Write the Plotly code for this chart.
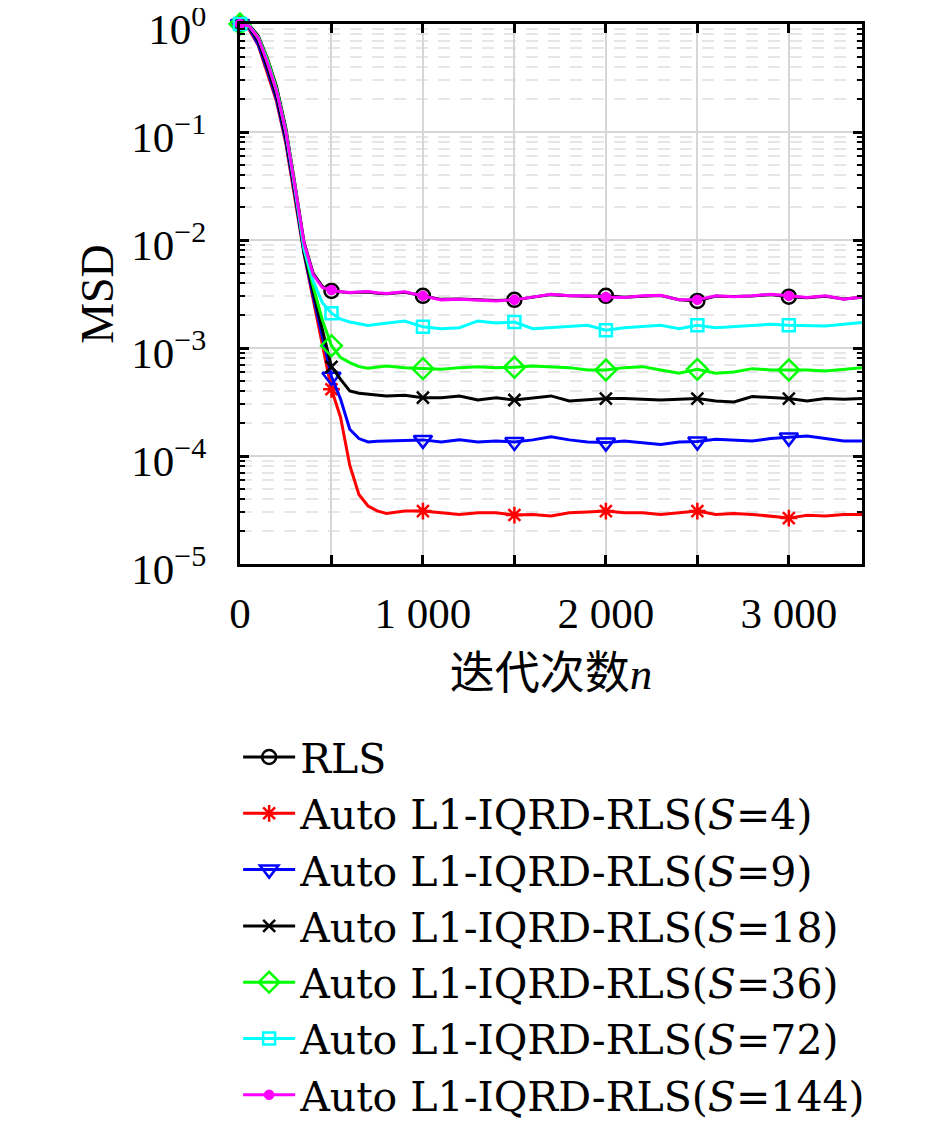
import plotly.graph_objects as go

# iteration index
n = [0, 50, 100, 150, 200, 250, 300, 350, 400, 450, 500, 550, 600, 650, 700, 750, 800,
     900, 1000, 1100, 1200, 1300, 1400, 1500, 1600, 1700, 1800, 1900, 2000,
     2100, 2200, 2300, 2400, 2500, 2600, 2700, 2800, 2900, 3000, 3100, 3200, 3300, 3400]

# MSD curves
msd_rls = [1.0, 0.977, 0.776, 0.479, 0.263, 0.110, 0.0331, 9.55e-3, 4.9e-3, 3.72e-3, 3.38e-3, 3.3e-3, 3.24e-3, 3.28e-3, 3.3e-3, 3.22e-3, 3.18e-3,
           3.28e-3, 3.04e-3, 2.82e-3, 2.85e-3, 2.8e-3, 2.75e-3, 2.79e-3, 2.95e-3, 3.12e-3, 3.05e-3, 3.02e-3, 3.04e-3,
           2.95e-3, 3.02e-3, 3.06e-3, 2.8e-3, 2.73e-3, 3.02e-3, 3.0e-3, 3.03e-3, 3.12e-3, 2.99e-3, 2.92e-3, 3.02e-3, 2.85e-3, 2.95e-3]
msd_s4 = [1.0, 0.891, 0.631, 0.355, 0.191, 0.0794, 0.0251, 7.41e-3, 2.82e-3, 1.07e-3, 4.15e-4, 2.27e-4, 8.2e-5, 4.4e-5, 3.44e-5, 3.1e-5, 2.94e-5,
          3.09e-5, 3.09e-5, 2.98e-5, 2.88e-5, 2.98e-5, 2.98e-5, 2.84e-5, 2.88e-5, 2.78e-5, 2.98e-5, 3.03e-5, 3.09e-5,
          2.98e-5, 2.98e-5, 2.88e-5, 2.98e-5, 3.09e-5, 2.88e-5, 2.94e-5, 2.88e-5, 2.78e-5, 2.66e-5, 2.82e-5, 2.78e-5, 2.88e-5, 2.88e-5]
msd_s9 = [1.0, 0.912, 0.646, 0.372, 0.200, 0.0832, 0.0263, 7.59e-3, 3.02e-3, 1.26e-3, 5.43e-4, 3.35e-4, 1.77e-4, 1.45e-4, 1.35e-4, 1.37e-4, 1.38e-4,
          1.38e-4, 1.41e-4, 1.35e-4, 1.41e-4, 1.35e-4, 1.38e-4, 1.35e-4, 1.41e-4, 1.51e-4, 1.41e-4, 1.35e-4, 1.33e-4,
          1.38e-4, 1.33e-4, 1.28e-4, 1.35e-4, 1.36e-4, 1.43e-4, 1.41e-4, 1.38e-4, 1.45e-4, 1.48e-4, 1.53e-4, 1.45e-4, 1.38e-4, 1.38e-4]
msd_s18 = [1.0, 0.933, 0.692, 0.398, 0.214, 0.0891, 0.0275, 7.76e-3, 3.31e-3, 1.45e-3, 6.7e-4, 5.13e-4, 4.0e-4, 3.81e-4, 3.73e-4, 3.65e-4, 3.60e-4,
           3.65e-4, 3.47e-4, 3.47e-4, 3.60e-4, 3.30e-4, 3.47e-4, 3.30e-4, 3.47e-4, 3.60e-4, 3.23e-4, 3.30e-4, 3.40e-4,
           3.40e-4, 3.35e-4, 3.30e-4, 3.35e-4, 3.40e-4, 3.23e-4, 3.16e-4, 3.55e-4, 3.47e-4, 3.40e-4, 3.23e-4, 3.40e-4, 3.35e-4, 3.40e-4]
msd_s36 = [1.0, 0.955, 0.759, 0.468, 0.251, 0.105, 0.0316, 8.32e-3, 3.72e-3, 1.82e-3, 1.05e-3, 8.15e-4, 7.33e-4, 6.72e-4, 6.49e-4, 6.6e-4, 6.82e-4,
           6.58e-4, 6.44e-4, 6.35e-4, 6.58e-4, 6.72e-4, 6.58e-4, 6.63e-4, 6.82e-4, 6.72e-4, 6.58e-4, 6.26e-4, 6.26e-4,
           6.58e-4, 6.72e-4, 6.26e-4, 5.83e-4, 6.35e-4, 5.83e-4, 6.00e-4, 6.44e-4, 6.26e-4, 6.26e-4, 6.26e-4, 6.13e-4, 6.35e-4, 6.58e-4]
msd_s72 = [1.0, 0.955, 0.741, 0.447, 0.240, 0.100, 0.0302, 8.32e-3, 4.17e-3, 2.63e-3, 2.10e-3, 1.85e-3, 1.74e-3, 1.68e-3, 1.62e-3, 1.66e-3, 1.70e-3,
           1.78e-3, 1.57e-3, 1.51e-3, 1.54e-3, 1.78e-3, 1.70e-3, 1.74e-3, 1.51e-3, 1.54e-3, 1.58e-3, 1.62e-3, 1.46e-3,
           1.54e-3, 1.58e-3, 1.62e-3, 1.51e-3, 1.62e-3, 1.54e-3, 1.58e-3, 1.62e-3, 1.66e-3, 1.62e-3, 1.60e-3, 1.60e-3, 1.66e-3, 1.72e-3]
msd_s144 = [1.0, 0.955, 0.741, 0.437, 0.240, 0.102, 0.0316, 9.33e-3, 4.79e-3, 3.63e-3, 3.45e-3, 3.31e-3, 3.26e-3, 3.30e-3, 3.33e-3, 3.25e-3, 3.19e-3,
            3.31e-3, 3.04e-3, 2.79e-3, 2.83e-3, 2.79e-3, 2.73e-3, 2.79e-3, 2.97e-3, 3.15e-3, 3.04e-3, 3.04e-3, 2.97e-3,
            2.93e-3, 3.04e-3, 3.08e-3, 2.79e-3, 2.79e-3, 3.04e-3, 2.99e-3, 3.04e-3, 3.15e-3, 3.04e-3, 2.93e-3, 3.04e-3, 2.83e-3, 2.97e-3]

x_ticks = [0, 500, 1000, 1500, 2000, 2500, 3000]
x_labels = ['0', '', '1 000', '', '2 000', '', '3 000']
y_ticks = [1e-5, 1e-4, 1e-3, 1e-2, 1e-1, 1e0]
y_labels = ['10<sup>−5</sup>', '10<sup>−4</sup>', '10<sup>−3</sup>', '10<sup>−2</sup>', '10<sup>−1</sup>', '10<sup>0</sup>']

series = [
    ('RLS', msd_rls, 'black', 'circle-open', 14),
    ('Auto L1-IQRD-RLS(<i>S</i>=4)', msd_s4, '#ff0000', 'asterisk-open', 14),
    ('Auto L1-IQRD-RLS(<i>S</i>=9)', msd_s9, '#0000ff', 'triangle-down-open', 16),
    ('Auto L1-IQRD-RLS(<i>S</i>=18)', msd_s18, 'black', 'x-thin-open', 12),
    ('Auto L1-IQRD-RLS(<i>S</i>=36)', msd_s36, '#00ff00', 'diamond-open', 16),
    ('Auto L1-IQRD-RLS(<i>S</i>=72)', msd_s72, '#00ffff', 'square-open', 12),
    ('Auto L1-IQRD-RLS(<i>S</i>=144)', msd_s144, '#ff00ff', 'circle', 8),
]

TICK_FONT = 'Liberation Serif'
TITLE_FONT = 'Liberation Serif, Noto Sans CJK SC'
LEGEND_FONT = 'DejaVu Serif'

fig = go.Figure()
for name, vals, color, symbol, size in series:
    mk = dict(symbol=symbol, size=size, color=color, line=dict(color=color, width=2.5))
    fig.add_trace(go.Scatter(x=n, y=vals, mode='lines', line=dict(color=color, width=3),
                             showlegend=False, hoverinfo='skip'))
    mx = [v for v in n if v % 500 == 0]
    my = [y for v, y in zip(n, vals) if v % 500 == 0]
    fig.add_trace(go.Scatter(x=mx, y=my, mode='markers', marker=mk, cliponaxis=False,
                             showlegend=False))
    # legend entry only
    fig.add_trace(go.Scatter(x=[None], y=[None], mode='lines+markers', name=name,
                             line=dict(color=color, width=3), marker=mk))

# page body has an 8px offset, so the plot box is placed 8px up/left
fig.update_xaxes(range=[0, 3400], tickvals=x_ticks, ticktext=x_labels, automargin=False,
                 ticks='inside', ticklen=9, tickwidth=3, tickcolor='black',
                 showline=True, linewidth=3, linecolor='black', mirror='allticks',
                 showgrid=True, gridcolor='#d6d6d6', gridwidth=2, zeroline=False,
                 tickfont=dict(size=43, family=TICK_FONT), ticklabelstandoff=9,
                 ticklabeloverflow='allow',
                 title=dict(text='迭代次数<i>n</i>', font=dict(size=45, family=TITLE_FONT),
                            standoff=22))
fig.update_yaxes(type='log', range=[-5, 0], tickvals=y_ticks, ticktext=y_labels, automargin=False,
                 ticks='inside', ticklen=9, tickwidth=3, tickcolor='black',
                 showline=True, linewidth=3, linecolor='black', mirror='allticks',
                 showgrid=True, gridcolor='#d6d6d6', gridwidth=2, zeroline=False,
                 tickfont=dict(size=43, family=TICK_FONT), ticklabelstandoff=22,
                 ticklabelshift=5, ticklabeloverflow='allow',
                 minor=dict(dtick='D1', ticks='inside', ticklen=5, tickwidth=2, tickcolor='black',
                            showgrid=True, gridcolor='#e6e6e6', gridwidth=1.5, griddash='12px,10px'),
                 title=dict(text='MSD', font=dict(size=46, family=TITLE_FONT), standoff=4))

fig.update_layout(
    width=945, height=1139,
    margin=dict(l=232, r=91, t=16, b=583, autoexpand=False),
    paper_bgcolor='white', plot_bgcolor='white',
    font=dict(family=TICK_FONT, color='black', size=43),
    legend=dict(x=-0.003, y=-0.296, xanchor='left', yanchor='top',
                font=dict(size=41, family=LEGEND_FONT),
                itemwidth=52, tracegroupgap=0, bgcolor='rgba(0,0,0,0)'),
)

fig.write_html('out.html')
